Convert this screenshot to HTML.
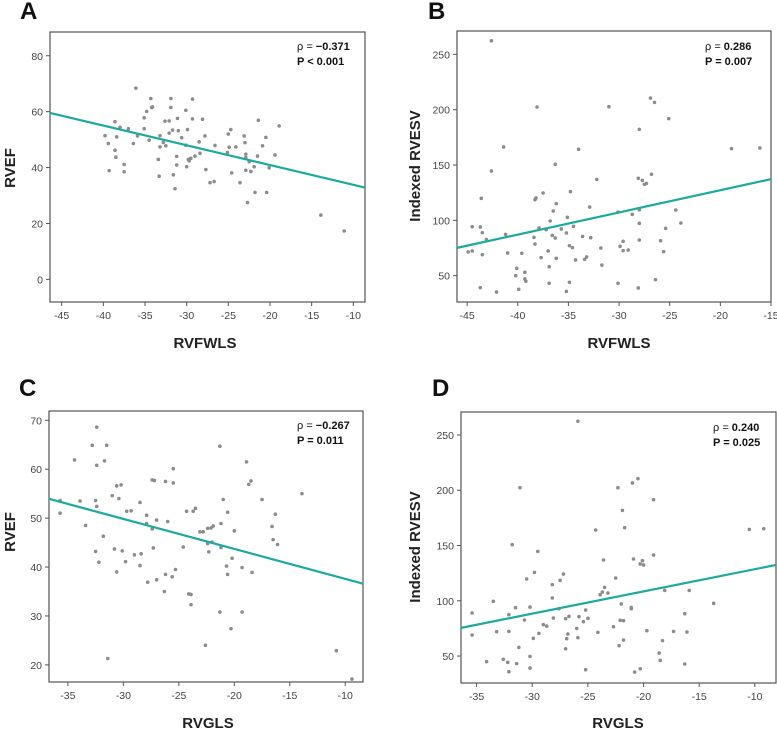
<!DOCTYPE html>
<html><head><meta charset="utf-8"><style>
body{margin:0;background:#fff;}
svg{display:block;font-family:"Liberation Sans",Arial,sans-serif;}
</style></head><body>
<svg id="fig" width="777" height="729" viewBox="0 0 777 729"></svg>
<script>
// Panel A data: RVFWLS vs RVEF
const aX=[-39.8,-39.4,-39.3,-38.6,-38.6,-38.5,-38.4,-38.0,-37.5,-37.5,-37.0,-36.4,-36.1,-35.9,-35.1,-35.1,-34.8,-34.5,-34.3,-34.2,-34.1,-33.4,-33.3,-33.2,-33.2,-32.8,-32.6,-32.5,-32.1,-32.1,-31.9,-31.9,-31.7,-31.6,-31.4,-31.2,-31.2,-31.1,-31.0,-30.6,-30.1,-30.1,-30.0,-29.9,-29.8,-29.7,-29.5,-29.3,-29.3,-29.0,-28.5,-28.4,-28.1,-27.8,-27.7,-27.2,-26.7,-26.6,-25.1,-25.0,-24.9,-24.7,-24.6,-24.1,-23.6,-23.1,-23.0,-22.9,-22.9,-22.9,-22.7,-22.5,-22.3,-21.9,-21.8,-21.5,-21.4,-20.9,-20.5,-20.4,-20.1,-19.4,-18.9,-13.9,-11.1];
const aY=[51.4,48.6,38.9,56.4,46.2,43.7,51.0,54.4,41.1,38.5,53.9,48.6,68.4,51.3,57.8,53.9,60.1,49.8,64.7,61.5,61.7,42.9,36.9,51.4,47.4,49.0,56.6,47.8,56.7,52.3,64.7,61.5,53.4,37.4,32.4,44.0,40.9,57.6,53.2,50.7,60.5,48.0,40.3,53.6,42.9,42.4,43.3,64.5,57.4,44.1,49.2,45.1,57.3,51.3,39.3,34.6,35.0,47.9,45.4,52.0,47.3,53.6,38.1,47.4,34.6,51.3,48.9,44.8,43.6,39.0,27.5,42.1,38.6,40.3,31.1,44.1,56.9,47.8,50.8,31.1,39.9,44.5,54.9,23.0,17.3];
// Panel B data: RVFWLS vs Indexed RVESV
const bX=[-44.9,-44.5,-44.5,-43.7,-43.7,-43.6,-43.5,-43.5,-43.1,-42.6,-42.6,-42.1,-41.4,-41.2,-41.0,-40.2,-40.1,-39.9,-39.6,-39.3,-39.3,-39.2,-38.4,-38.3,-38.3,-38.2,-38.1,-37.9,-37.7,-37.5,-37.2,-37.0,-36.9,-36.9,-36.8,-36.6,-36.5,-36.3,-36.3,-36.2,-36.2,-35.7,-35.2,-35.2,-35.1,-34.9,-34.9,-34.8,-34.6,-34.5,-34.3,-34.0,-33.6,-33.4,-33.2,-32.9,-32.8,-32.2,-31.8,-31.7,-31.0,-30.1,-30.1,-29.9,-29.6,-29.6,-29.1,-28.7,-28.1,-28.1,-28.0,-28.0,-28.0,-28.0,-27.7,-27.5,-27.3,-26.9,-26.8,-26.5,-26.4,-25.9,-25.6,-25.4,-25.1,-24.4,-23.9,-18.9,-16.1];
const bY=[71.4,72.3,94.3,94.0,39.2,119.9,88.9,69.0,82.8,262.3,144.6,35.2,166.3,87.3,70.5,50.0,56.6,37.7,70.2,53.0,47.0,44.9,84.6,118.7,78.6,120.2,202.4,93.1,66.3,124.7,91.6,72.3,58.1,43.1,99.4,86.4,108.4,84.0,150.6,65.7,115.1,92.2,88.6,35.8,102.7,77.1,44.0,125.9,75.3,94.6,64.2,164.2,85.5,64.8,66.9,112.0,84.3,137.0,75.0,59.6,202.7,107.5,43.1,76.5,72.6,81.0,73.2,105.4,138.0,38.9,182.2,109.6,97.3,82.2,136.1,132.5,133.4,210.5,141.6,206.6,46.4,81.6,71.7,92.8,191.9,109.3,97.6,164.8,165.4];
// Panel C data: RVGLS vs RVEF
const cX=[-35.7,-35.7,-34.4,-33.9,-33.4,-32.8,-32.5,-32.5,-32.4,-32.4,-32.4,-32.2,-31.8,-31.7,-31.5,-31.4,-31.0,-30.8,-30.6,-30.6,-30.4,-30.2,-30.1,-29.8,-29.7,-29.3,-29.0,-28.5,-28.5,-28.4,-27.9,-27.9,-27.8,-27.4,-27.4,-27.3,-27.2,-27.0,-27.0,-26.3,-26.2,-26.2,-26.0,-25.6,-25.5,-25.5,-25.3,-24.6,-24.3,-24.1,-23.9,-23.9,-23.7,-23.5,-23.1,-22.8,-22.6,-22.4,-22.4,-22.3,-22.1,-22.0,-21.9,-21.3,-21.3,-21.2,-21.2,-21.0,-20.7,-20.6,-20.6,-20.3,-20.2,-20.0,-19.3,-19.3,-18.9,-18.7,-18.5,-18.4,-17.5,-16.6,-16.5,-16.3,-16.1,-13.9,-10.8,-9.4];
const cY=[51.0,53.6,61.9,53.5,48.5,64.9,53.6,43.2,68.6,60.8,52.4,41.0,46.3,61.7,64.9,21.3,54.6,43.7,39.0,56.6,54.0,56.8,43.3,41.1,51.4,51.5,42.5,40.3,53.2,42.7,50.6,48.9,36.9,47.8,57.8,43.9,57.7,49.6,37.4,35.0,57.5,38.5,49.3,38.0,60.1,57.2,39.5,44.1,51.4,34.5,32.3,34.4,51.4,52.0,47.2,47.2,24.0,47.9,44.8,43.1,48.0,45.1,48.4,64.7,30.8,44.0,48.9,53.8,40.2,51.2,38.5,27.4,41.8,47.4,39.9,30.8,61.5,56.9,57.6,38.9,53.8,48.3,45.6,50.8,44.6,55.0,22.9,17.1];
// Panel D data: RVGLS vs Indexed RVESV
const dX=[-35.4,-35.4,-34.1,-33.5,-33.2,-32.6,-32.2,-32.1,-32.1,-32.1,-31.8,-31.5,-31.4,-31.2,-31.1,-30.7,-30.5,-30.2,-30.2,-30.2,-29.9,-29.8,-29.5,-29.4,-29.0,-28.7,-28.2,-28.2,-28.1,-27.6,-27.5,-27.2,-27.0,-27.0,-26.9,-26.8,-26.7,-26.0,-25.9,-25.9,-25.8,-25.4,-25.2,-25.2,-25.0,-24.3,-24.1,-23.9,-23.7,-23.6,-23.5,-23.2,-22.7,-22.5,-22.3,-22.2,-22.1,-22.0,-21.9,-21.8,-21.8,-21.7,-21.1,-21.1,-21.0,-20.9,-20.8,-20.5,-20.3,-20.3,-20.1,-20.0,-19.7,-19.1,-19.1,-18.6,-18.5,-18.3,-18.1,-17.3,-16.3,-16.3,-16.1,-15.9,-13.7,-10.5,-9.2];
const dY=[88.9,69.0,44.9,99.5,72.0,47.0,44.3,87.4,72.3,35.8,150.8,93.7,43.1,57.8,202.3,82.6,119.7,94.3,39.1,49.7,66.0,125.7,144.7,70.5,78.4,77.1,114.6,102.5,84.4,92.8,118.5,124.2,83.8,56.6,65.7,69.9,85.9,75.0,66.6,262.4,85.6,81.1,91.6,37.6,84.1,164.0,71.4,105.5,107.9,136.9,112.1,107.0,76.5,120.6,202.3,59.4,82.3,97.1,181.8,82.0,64.5,166.1,94.0,92.8,206.6,137.8,35.5,210.5,133.3,38.5,136.3,132.4,72.9,191.5,141.4,52.7,46.1,63.9,109.4,72.3,88.3,42.8,71.7,109.4,97.7,164.6,165.2];
// tick labels
const xTicksA=[-45,-40,-35,-30,-25,-20,-15,-10];
const yTicksA=[0,20,40,60,80];
const xTicksB=[-45,-40,-35,-30,-25,-20,-15];
const yTicksB=[50,100,150,200,250];
const xTicksC=[-35,-30,-25,-20,-15,-10];
const yTicksC=[20,30,40,50,60,70];
const xTicksD=[-35,-30,-25,-20,-15,-10];
const yTicksD=[50,100,150,200,250];
const statsA=["−0.371","P < 0.001"];
const statsB=["0.286","P = 0.007"];
const statsC=["−0.267","P = 0.011"];
const statsD=["0.240","P = 0.025"];

const NS="http://www.w3.org/2000/svg";
const svg=document.getElementById('fig');
function mk(tag,attrs,parent,text){const e=document.createElementNS(NS,tag);for(const k in attrs)e.setAttribute(k,attrs[k]);if(text!==undefined)e.textContent=text;(parent||svg).appendChild(e);return e;}

function panel(p){
  const g=mk('g',{});
  
  
  const sx=v=>p.x0+(v-p.xd[0])/(p.xd[1]-p.xd[0])*(p.x1-p.x0);
  const sy=v=>p.y1-(v-p.yd[0])/(p.yd[1]-p.yd[0])*(p.y1-p.y0);
  const L=mk('text',{x:p.lx,y:p.ly,'font-size':24,'font-weight':'bold',fill:'#111'},g,p.id);
  
  
  const box=mk('rect',{x:p.x0,y:p.y0,width:p.x1-p.x0,height:p.y1-p.y0,fill:'none',stroke:'#555','stroke-width':1.2},g);
  
  
  p.xt.forEach(t=>{const x=sx(t);
    mk('line',{x1:x,x2:x,y1:p.y1,y2:p.y1+4,stroke:'#555'},g);
    const tx=mk('text',{x:x,y:p.y1+17,'font-size':10.5,fill:'#444','text-anchor':'middle'},g,String(t));
    
    });
  p.yt.forEach(t=>{const y=sy(t);
    mk('line',{x1:p.x0-4,x2:p.x0,y1:y,y2:y,stroke:'#555'},g);
    const ty=mk('text',{x:p.x0-7,y:y+4,'font-size':10.5,fill:'#444','text-anchor':'end'},g,String(t));
    
    });
  const xtl=mk('text',{x:p.xtx,y:p.xty,'font-size':15,'font-weight':'bold',fill:'#222','text-anchor':'middle'},g,p.xl);
  
  
  const ytl=mk('text',{x:0,y:0,'font-size':15,'font-weight':'bold',fill:'#222','text-anchor':'middle',transform:`translate(${p.ytx},${p.yty}) rotate(-90)`},g,p.yl);
  
  
  for(let i=0;i<p.X.length;i++){
    const c=mk('circle',{cx:sx(p.X[i]),cy:sy(p.Y[i]),r:1.8,fill:'#8c8c8c'},g);
    
    
  }
  const n=p.X.length;let mx=0,my=0;for(let i=0;i<n;i++){mx+=p.X[i];my+=p.Y[i];}mx/=n;my/=n;
  let sxy=0,sxx=0;for(let i=0;i<n;i++){sxy+=(p.X[i]-mx)*(p.Y[i]-my);sxx+=(p.X[i]-mx)**2;}
  const b=sxy/sxx,a=my-b*mx;
  const ln=mk('line',{x1:p.x0,y1:sy(a+b*p.xd[0]),x2:p.x1,y2:sy(a+b*p.xd[1]),stroke:'#1aab9f','stroke-width':2.2},g);
  
  
  const s1=mk('text',{x:p.ax,y:p.ay,'font-size':11,fill:'#111'},g);
  
  
  mk('tspan',{},s1,'ρ = ');
  mk('tspan',{'font-weight':'bold'},s1,p.st[0]);
  const s2=mk('text',{x:p.ax,y:p.ay+15,'font-size':11,'font-weight':'bold',fill:'#111'},g,p.st[1]);
  
  
}
panel({id:'A',X:aX,Y:aY,xt:xTicksA,yt:yTicksA,st:statsA,x0:50,x1:365,y0:32,y1:302,xd:[-46.4,-8.6],yd:[-8.1,88.5],
  lx:20,ly:19,xl:'RVFWLS',xtx:205,xty:348,yl:'RVEF',ytx:15,yty:168,ax:297,ay:50});
panel({id:'B',X:bX,Y:bY,xt:xTicksB,yt:yTicksB,st:statsB,x0:457,x1:771,y0:31,y1:302,xd:[-46.0,-15],yd:[26.2,271.1],
  lx:428,ly:19,xl:'RVFWLS',xtx:619,xty:348,yl:'Indexed RVESV',ytx:420,yty:166,ax:705,ay:50});
panel({id:'C',X:cX,Y:cY,xt:xTicksC,yt:yTicksC,st:statsC,x0:49,x1:363,y0:411,y1:682,xd:[-36.7,-8.4],yd:[16.5,71.9],
  lx:19,ly:396,xl:'RVGLS',xtx:208,xty:728,yl:'RVEF',ytx:15,yty:532,ax:297,ay:429});
panel({id:'D',X:dX,Y:dY,xt:xTicksD,yt:yTicksD,st:statsD,x0:461,x1:776,y0:412,y1:683,xd:[-36.4,-8.1],yd:[25.6,270.8],
  lx:432,ly:396,xl:'RVGLS',xtx:618,xty:728,yl:'Indexed RVESV',ytx:420,yty:547,ax:713,ay:431});
</script>
</body></html>
